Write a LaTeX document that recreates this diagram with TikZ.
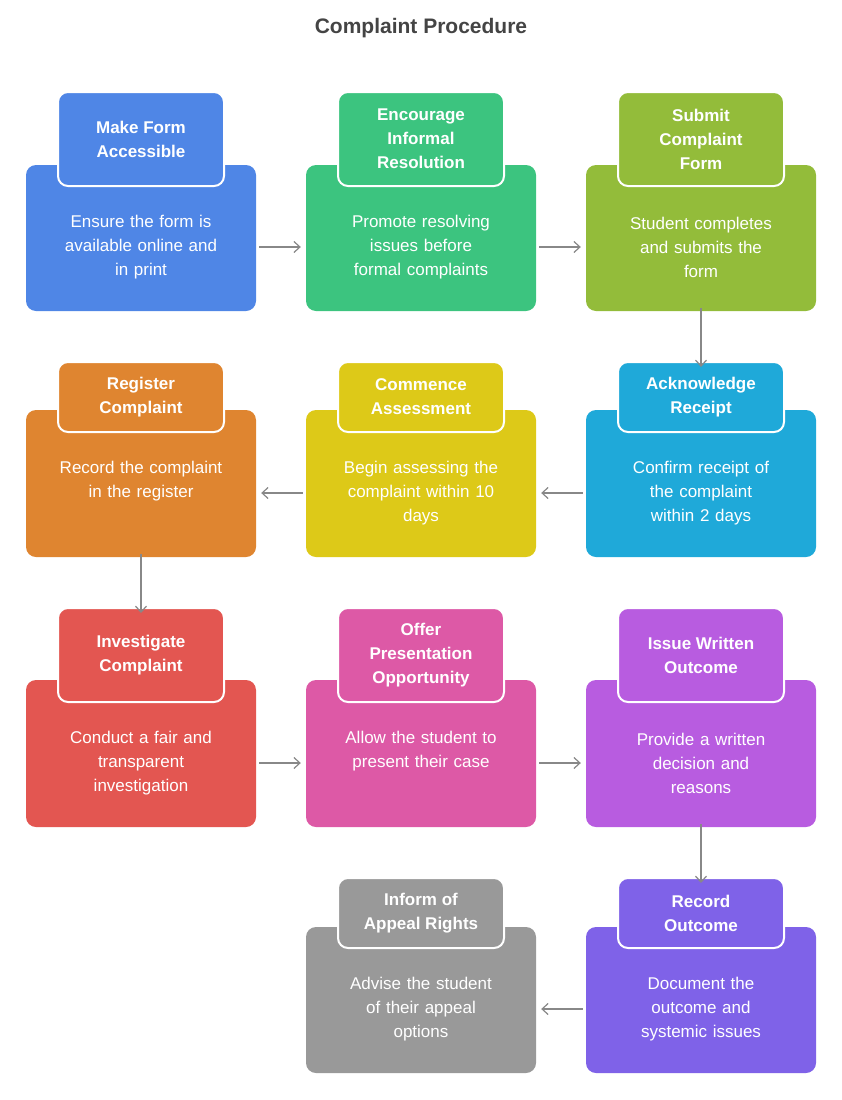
\documentclass[tikz,border=0pt]{standalone}
\usepackage{fontspec}
\setmainfont{Liberation Sans}
\usetikzlibrary{arrows.meta}
\definecolor{cA}{HTML}{4F86E6}\definecolor{cB}{HTML}{3CC47F}\definecolor{cC}{HTML}{93BC3A}
\definecolor{cD}{HTML}{1FA9D9}\definecolor{cE}{HTML}{DDC918}\definecolor{cF}{HTML}{DF8530}
\definecolor{cG}{HTML}{E35651}\definecolor{cH}{HTML}{DD59A6}\definecolor{cI}{HTML}{B85CE0}
\definecolor{cJ}{HTML}{7F62E8}\definecolor{cK}{HTML}{999999}
\definecolor{arr}{HTML}{888888}\definecolor{ttl}{HTML}{444444}
\tikzset{
 big/.style={rounded corners=10pt,minimum width=230pt,inner sep=0,draw=none},
 hd/.style={rounded corners=10pt,minimum width=166pt,inner sep=0,draw=white,line width=2pt,text=white,font=\fontsize{17}{24}\selectfont\bfseries,align=center},
 bt/.style={text=white,font=\fontsize{17}{24}\selectfont,align=center,text width=215pt},
 ar/.style={draw=arr,line width=1.2pt,-{Straight Barb[length=6pt,width=11pt]}}
}
\newcommand{\stp}[8]{% name,color,x,top,bottom,htop,hbot,head,body
}
\begin{document}
\begin{tikzpicture}[x=1pt,y=-1pt]
\useasboundingbox (0,0) rectangle (842,1100);
\node[text=ttl,font=\fontsize{21}{26}\selectfont\bfseries] (title) at (421,28) {Complaint Procedure};
% row1
\foreach \n/\c/\x in {a/cA/141,b/cB/421,c/cC/701}{\node[big,fill=\c,minimum height=146pt] (\n) at (\x,238) {};}
\foreach \n/\c/\x in {d/cD/701,e/cE/421,f/cF/141}{\node[big,fill=\c,minimum height=147pt] (\n) at (\x,483.5) {};}
\foreach \n/\c/\x in {g/cG/141,h/cH/421,i/cI/701}{\node[big,fill=\c,minimum height=147pt] (\n) at (\x,753.5) {};}
\foreach \n/\c/\x in {j/cJ/701,k/cK/421}{\node[big,fill=\c,minimum height=146pt] (\n) at (\x,1000) {};}
% heads
\node[hd,fill=cA,minimum height=94pt] (ha) at (141,139) {Make Form\\Accessible};
\node[hd,fill=cB,minimum height=94pt] (hb) at (421,139) {Encourage\\Informal\\Resolution};
\node[hd,fill=cC,minimum height=94pt] (hc) at (701,139) {Submit\\Complaint\\Form};
\node[hd,fill=cD,minimum height=70pt] (hd) at (701,397) {Acknowledge\\Receipt};
\node[hd,fill=cE,minimum height=70pt] (he) at (421,397) {Commence\\Assessment};
\node[hd,fill=cF,minimum height=70pt] (hf) at (141,397) {Register\\Complaint};
\node[hd,fill=cG,minimum height=94pt] (hg) at (141,655) {Investigate\\Complaint};
\node[hd,fill=cH,minimum height=94pt] (hh) at (421,655) {Offer\\Presentation\\Opportunity};
\node[hd,fill=cI,minimum height=94pt] (hi) at (701,655) {Issue Written\\Outcome};
\node[hd,fill=cJ,minimum height=70pt] (hj) at (701,913) {Record\\Outcome};
\node[hd,fill=cK,minimum height=70pt] (hk) at (421,913) {Inform of\\Appeal Rights};
% bodies
\node[bt] (ta) at (141,247) {Ensure the form is\\available online and\\in print};
\node[bt] (tb) at (421,247) {Promote resolving\\issues before\\formal complaints};
\node[bt] (tc) at (701,247) {Student completes\\and submits the\\form};
\node[bt] (td) at (701,493) {Confirm receipt of\\the complaint\\within 2 days};
\node[bt] (te) at (421,493) {Begin assessing the\\complaint within 10\\days};
\node[bt] (tf) at (141,481) {Record the complaint\\in the register};
\node[bt] (tg) at (141,763) {Conduct a fair and\\transparent\\investigation};
\node[bt] (th) at (421,751) {Allow the student to\\present their case};
\node[bt] (ti) at (701,763) {Provide a written\\decision and\\reasons};
\node[bt] (tj) at (701,1009) {Document the\\outcome and\\systemic issues};
\node[bt] (tk) at (421,1009) {Advise the student\\of their appeal\\options};
% arrows
\draw[ar] ([xshift=3pt]a.east|-ta) -- ([xshift=-5pt]b.west|-ta);
\draw[ar] ([xshift=3pt]b.east|-ta) -- ([xshift=-5pt]c.west|-ta);
\draw[ar] ([yshift=3pt]c.south) -- ([yshift=-6pt]hd.north);
\draw[ar] ([xshift=-3pt]d.west|-td) -- ([xshift=5pt]e.east|-td);
\draw[ar] ([xshift=-3pt]e.west|-td) -- ([xshift=5pt]f.east|-td);
\draw[ar] ([yshift=3pt]f.south) -- ([yshift=-6pt]hg.north);
\draw[ar] ([xshift=3pt]g.east|-tg) -- ([xshift=-5pt]h.west|-tg);
\draw[ar] ([xshift=3pt]h.east|-tg) -- ([xshift=-5pt]i.west|-tg);
\draw[ar] ([yshift=3pt]i.south) -- ([yshift=-6pt]hj.north);
\draw[ar] ([xshift=-3pt]j.west|-tj) -- ([xshift=5pt]k.east|-tj);
\end{tikzpicture}
\end{document}
